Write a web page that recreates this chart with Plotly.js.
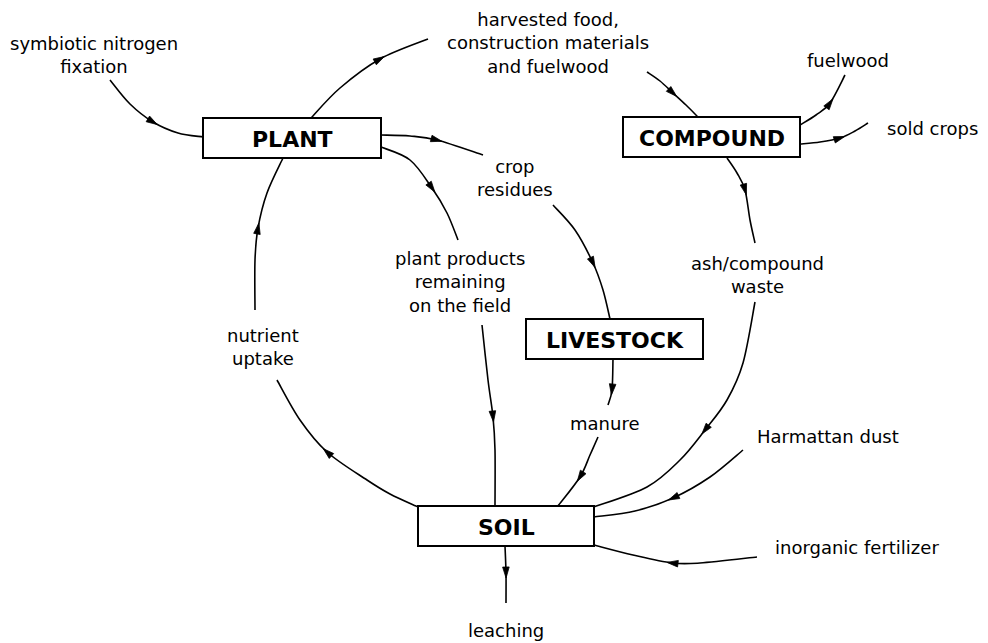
<!DOCTYPE html>
<html>
<head>
<meta charset="utf-8">
<script src="https://cdn.plot.ly/plotly-3.0.1.min.js"></script>
<style>html,body{margin:0;padding:0;background:#fff;}#chart{width:988px;height:643px;}</style>
</head>
<body>
<div id="chart"></div>
<script>
// ---- content (labels) ----
const nodeLabels = ['PLANT', 'COMPOUND', 'LIVESTOCK', 'SOIL'];
const flowLabels = [
  'symbiotic nitrogen<br>fixation',
  'harvested food,<br>construction materials<br>and fuelwood',
  'fuelwood',
  'sold crops',
  'crop<br>residues',
  'plant products<br>remaining<br>on the field',
  'ash/compound<br>waste',
  'nutrient<br>uptake',
  'manure',
  'Harmattan dust',
  'inorganic fertilizer',
  'leaching'
];

// ---- layout geometry (positions in the 988x643 drawing space) ----
const nodeBoxes = [
  [203, 118, 381, 158],
  [623, 117, 800, 157],
  [526, 319, 703, 359],
  [418, 506, 594, 546]
];
const labelPos = [
  [94, 55], [548, 43], [848, 60], [932, 128], [515, 178],
  [460, 282], [757, 275], [263, 347], [604, 423], [828, 436],
  [857, 547], [506, 630]
];
// each edge: waypoints (from -> to) and index of arrowhead
const edges = [
  {p: [[110,80],[130,104],[153,122],[178,133],[203,137]], a: 2},
  {p: [[311,118],[340,88],[380,59],[428,39]], a: 2},
  {p: [[381,135],[410,136],[437,140],[483,155]], a: 2},
  {p: [[381,147],[410,160],[432,188],[447,213],[458,240]], a: 2},
  {p: [[647,72],[660,81],[673,93],[686,105],[698,117]], a: 2},
  {p: [[800,125],[816,115],[830,103],[845,75]], a: 2},
  {p: [[800,144],[820,142],[840,138],[855,131],[868,123]], a: 2},
  {p: [[727,158],[737,173],[745,190],[750,220],[755,243]], a: 2},
  {p: [[755,302],[743,363],[727,400],[705,430],[680,460],[647,487],[594,507]], a: 3},
  {p: [[553,205],[575,230],[593,263],[603,290],[610,319]], a: 2},
  {p: [[613,359],[612,390],[608,405]], a: 1},
  {p: [[598,437],[590,455],[580,477],[558,506]], a: 2},
  {p: [[482,325],[488,380],[493,417],[495,450],[495,506]], a: 2},
  {p: [[418,507],[390,494],[367,480],[327,452],[300,420],[277,380]], a: 3},
  {p: [[255,310],[255,260],[258,228],[267,193],[283,158]], a: 2},
  {p: [[743,450],[710,477],[673,498],[635,511],[594,517]], a: 2},
  {p: [[757,557],[700,563],[672,563],[633,555],[594,545]], a: 2},
  {p: [[505,546],[506,573],[506,603]], a: 1}
];

function smoothPath(pts) {
  const n = pts.length;
  let d = 'M' + pts[0][0] + ',' + pts[0][1];
  for (let i = 0; i < n - 1; i++) {
    const p0 = pts[Math.max(i - 1, 0)], p1 = pts[i], p2 = pts[i + 1], p3 = pts[Math.min(i + 2, n - 1)];
    const c1 = [p1[0] + (p2[0] - p0[0]) / 6, p1[1] + (p2[1] - p0[1]) / 6];
    const c2 = [p2[0] - (p3[0] - p1[0]) / 6, p2[1] - (p3[1] - p1[1]) / 6];
    d += ' C' + c1[0].toFixed(2) + ',' + c1[1].toFixed(2) + ' ' + c2[0].toFixed(2) + ',' + c2[1].toFixed(2) + ' ' + p2[0] + ',' + p2[1];
  }
  return d;
}
function arrowHead(pts, i) {
  const n = pts.length;
  const a = pts[Math.max(i - 1, 0)], b = pts[Math.min(i + 1, n - 1)];
  let dx = b[0] - a[0], dy = b[1] - a[1];
  const L = Math.hypot(dx, dy); dx /= L; dy /= L;
  const px = -dy, py = dx;
  const c = pts[i];
  const tip = [c[0] + dx * 5, c[1] + dy * 5];
  const base = [c[0] - dx * 6, c[1] - dy * 6];
  const w = 3.3;
  return 'M' + tip[0].toFixed(2) + ',' + tip[1].toFixed(2) +
    ' L' + (base[0] + px * w).toFixed(2) + ',' + (base[1] + py * w).toFixed(2) +
    ' L' + (base[0] - px * w).toFixed(2) + ',' + (base[1] - py * w).toFixed(2) + ' Z';
}

const shapes = [];
edges.forEach(e => {
  shapes.push({type: 'path', xref: 'x', yref: 'y', path: smoothPath(e.p), line: {color: '#000', width: 1.6}, layer: 'below'});
  shapes.push({type: 'path', xref: 'x', yref: 'y', path: arrowHead(e.p, e.a), line: {color: '#000', width: 0.8}, fillcolor: '#000', layer: 'below'});
});
nodeBoxes.forEach(b => {
  shapes.push({type: 'rect', xref: 'x', yref: 'y', x0: b[0], y0: b[1], x1: b[2], y1: b[3],
    line: {color: '#000', width: 2}, fillcolor: '#fff', layer: 'below'});
});

const annotations = [];
nodeLabels.forEach((t, i) => {
  const b = nodeBoxes[i];
  annotations.push({x: (b[0] + b[2]) / 2, y: (b[1] + b[3]) / 2 + 1, xref: 'x', yref: 'y', text: '<b>' + t + '</b>',
    showarrow: false, xanchor: 'center', yanchor: 'middle',
    font: {family: 'DejaVu Sans', size: 22, color: '#000'}});
});
flowLabels.forEach((t, i) => {
  annotations.push({x: labelPos[i][0], y: labelPos[i][1], xref: 'x', yref: 'y', text: t,
    showarrow: false, xanchor: 'center', yanchor: 'middle', align: 'center',
    font: {family: 'DejaVu Sans', size: 18, color: '#000'}});
});

const layout = {
  width: 988, height: 643,
  margin: {l: 0, r: 0, t: 0, b: 0, pad: 0},
  paper_bgcolor: '#fff', plot_bgcolor: '#fff',
  xaxis: {range: [0, 988], visible: false, fixedrange: true},
  yaxis: {range: [643, 0], visible: false, fixedrange: true},
  showlegend: false,
  shapes: shapes,
  annotations: annotations
};
Plotly.newPlot('chart', [], layout, {displayModeBar: false, staticPlot: true});
</script>
</body>
</html>
